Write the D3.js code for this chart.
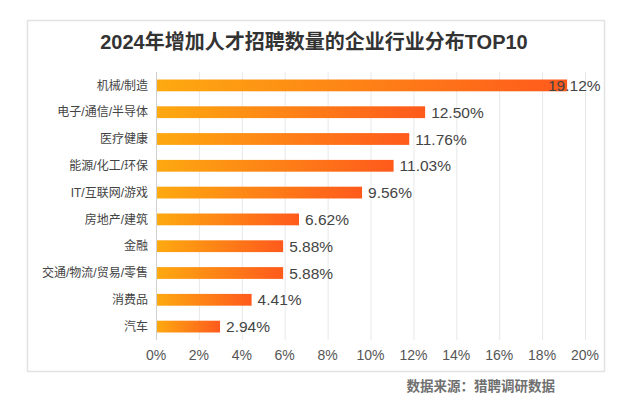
<!DOCTYPE html>
<html>
<head>
<meta charset="utf-8">
<script src="https://cdn.jsdelivr.net/npm/d3@7"></script>
<style>
  body { margin: 0; background: #fff; }
  text { font-family: "Liberation Sans", "Noto Sans CJK SC", sans-serif; }
</style>
</head>
<body>
<script>
const categories = ["机械/制造", "电子/通信/半导体", "医疗健康", "能源/化工/环保", "IT/互联网/游戏",
    "房地产/建筑", "金融", "交通/物流/贸易/零售", "消费品", "汽车"];
const values = [19.12, 12.50, 11.76, 11.03, 9.56, 6.62, 5.88, 5.88, 4.41, 2.94];
const ticks = [0, 2, 4, 6, 8, 10, 12, 14, 16, 18, 20];
const title = "2024年增加人才招聘数量的企业行业分布TOP10";
const source = "数据来源：猎聘调研数据";

const width = 643, height = 398;

const svg = d3.select("body")
    .append("svg")
    .attr("width", width)
    .attr("height", height);

// gradient for bars
const grad = svg.append("defs").append("linearGradient")
    .attr("id", "barGrad")
    .attr("x1", "0").attr("x2", "1").attr("y1", "0").attr("y2", "0");
grad.append("stop").attr("offset", "0%").attr("stop-color", "#fda910");
grad.append("stop").attr("offset", "100%").attr("stop-color", "#ff5a1c");

// frame
svg.append("rect")
    .attr("x", 27.5).attr("y", 20.5)
    .attr("width", 577).attr("height", 351)
    .attr("fill", "#fff")
    .attr("stroke", "#e2e2e2")
    .attr("stroke-width", 1.5);

const x = d3.scaleLinear().domain([0, 20]).range([156, 585]);
const y = d3.scaleBand().domain(categories).range([72, 340]).paddingInner(0.56).paddingOuter(0.28);

// grid lines
svg.selectAll(".grid")
    .data(ticks)
    .enter()
    .append("line")
    .attr("x1", d => x(d) + 0.5)
    .attr("x2", d => x(d) + 0.5)
    .attr("y1", 72)
    .attr("y2", 340)
    .attr("stroke", d => d === 0 ? "#d0d0d0" : "#e8e8e8")
    .attr("stroke-width", 1);

// x axis labels
svg.selectAll(".tick-label")
    .data(ticks)
    .enter()
    .append("text")
    .attr("x", d => x(d))
    .attr("y", 355)
    .attr("dy", "0.35em")
    .attr("text-anchor", "middle")
    .attr("fill", "#555")
    .style("font-size", "14px")
    .text(d => d + "%");

// bars
svg.selectAll(".bar")
    .data(values)
    .enter()
    .append("rect")
    .attr("x", x(0) + 1)
    .attr("y", (d, i) => y(categories[i]))
    .attr("width", d => x(d) - x(0))
    .attr("height", y.bandwidth())
    .attr("fill", "url(#barGrad)");

// category labels
svg.selectAll(".cat")
    .data(categories)
    .enter()
    .append("text")
    .attr("x", 148)
    .attr("y", d => y(d) + y.bandwidth() / 2)
    .attr("dy", "0.35em")
    .attr("text-anchor", "end")
    .attr("fill", "#444")
    .style("font-size", "12px")
    .text(d => d);

// value labels
svg.selectAll(".val")
    .data(values)
    .enter()
    .append("text")
    .attr("x", d => Math.min(x(d) + 7, 548))
    .attr("y", (d, i) => y(categories[i]) + y.bandwidth() / 2)
    .attr("dy", "0.36em")
    .attr("fill", "#444")
    .style("font-size", "15.5px")
    .text(d => d.toFixed(2) + "%");

// title
svg.append("text")
    .attr("x", 314)
    .attr("y", 42)
    .attr("dy", "0.35em")
    .attr("text-anchor", "middle")
    .attr("fill", "#333")
    .style("font-size", "20px")
    .style("font-weight", "bold")
    .text(title);

// source
svg.append("text")
    .attr("x", 555)
    .attr("y", 386)
    .attr("dy", "0.35em")
    .attr("text-anchor", "end")
    .attr("fill", "#707070")
    .style("font-size", "13.5px")
    .style("font-weight", "bold")
    .text(source);
</script>
</body>
</html>
